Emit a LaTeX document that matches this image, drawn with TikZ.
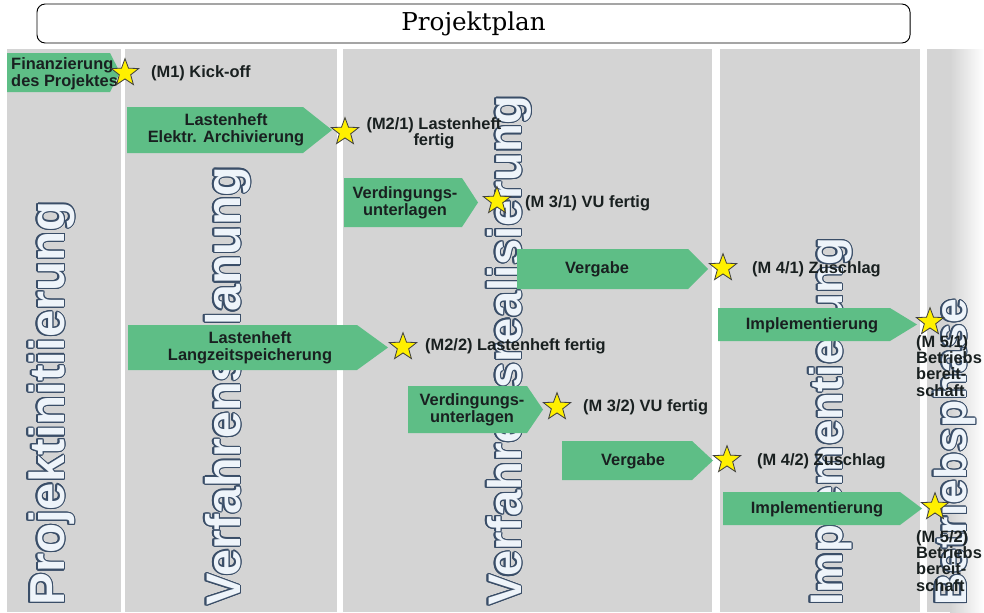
\documentclass[tikz,border=0pt]{standalone}
\usepackage{fontspec}
\setmainfont{Liberation Sans}
\newfontfamily\titlefont{DejaVu Serif}
\usepackage[copies]{contour}
\usetikzlibrary{shapes.geometric}

\definecolor{colgray}{RGB}{212,212,212}
\definecolor{taskgreen}{RGB}{94,190,134}
\definecolor{stargold}{RGB}{255,240,0}
\definecolor{phasefill}{RGB}{238,244,250}
\definecolor{phaseline}{RGB}{58,78,104}
\definecolor{darktext}{RGB}{25,32,32}
\contourlength{1pt}

% green task bar: name, left, body end, tip, top, bottom
\newcommand{\taskbar}[6]{%
  \fill[taskgreen] (#2,#5) -- (#3,#5) -- (#4,{(#5+#6)/2}) -- (#3,#6) -- (#2,#6) -- cycle;
  \coordinate (#1-tip) at (#4,{(#5+#6)/2});
}

\begin{document}
\begin{tikzpicture}[x=0.03cm,y=-0.03cm,
  titlebox/.style={draw,line width=0.8pt,rounded corners=7pt,fill=white,minimum width=26.19cm,minimum height=1.17cm,font=\titlefont\fontsize{21}{23}\selectfont},
  phase/.style={rotate=90,anchor=base west,inner sep=0pt,text=phasefill,font=\fontsize{#1}{#1}\selectfont\bfseries},
  tasktext/.style={inner sep=0pt,align=center,text=darktext,font=\fontsize{14}{14.5}\selectfont\bfseries},
  milestone/.style={star,star points=5,star point ratio=2.4,minimum size=0.86cm,inner sep=0pt,fill=stargold,draw=black!75,line width=0.7pt},
  mlabel/.style={inner sep=0pt,text=darktext,font=\fontsize{14}{14}\selectfont\bfseries}]
\useasboundingbox (0,0) rectangle (984,612);
\clip (0,0) rectangle (984,612);

% phase columns
\foreach \xa/\xb in {7/121,125/337,343/712,720/920}
  \fill[colgray] (\xa,49) rectangle (\xb,612);
\fill[colgray] (927,49) rectangle (950,612);
\shade[left color=colgray,right color=white] (950,49) rectangle (984,612);

\node[titlebox] (title) at (473.5,23.5) {Projektplan};

% phase names
\node[phase=42] (ph1) at (64,606) {\contour{phaseline}{Projektinitiierung}};
\node[phase=41.4] (ph2) at (240,606) {\contour{phaseline}{Verfahrensplanung}};
\node[phase=40.2] (ph3) at (521,606) {\contour{phaseline}{Verfahrensrealisierung}};
\node[phase=39] (ph4) at (842,606) {\contour{phaseline}{Implementierung}};
\node[phase=38] (ph5) at (966,606) {\contour{phaseline}{Betriebsphase}};

% tasks
\taskbar{fin}{7}{110}{120}{53}{92}
\taskbar{elek}{127}{303}{332}{107}{153}
\taskbar{vua}{344}{462}{478}{178}{227}
\taskbar{verga}{517}{688}{708}{249}{289}
\taskbar{impla}{718}{890}{917}{308}{341}
\taskbar{lang}{128}{357}{388}{325}{370}
\taskbar{vub}{408}{527}{543}{386}{433}
\taskbar{vergb}{562}{692}{713}{441}{480}
\taskbar{implb}{723}{900}{922}{492}{525}

\node[tasktext,anchor=west,align=left] (tfin) at (11,74) {Finanzierung\\des Projektes};
\node[tasktext] (telek) at (226,130) {Lastenheft\\Elektr. Archivierung};
\node[tasktext] (tvua) at (405,203) {Verdingungs-\\unterlagen};
\node[tasktext] (tverga) at (597,269) {Vergabe};
\node[tasktext] (timpla) at (812,325) {Implementierung};
\node[tasktext] (tlang) at (250,348) {Lastenheft\\Langzeitspeicherung};
\node[tasktext] (tvub) at (472,410) {Verdingungs-\\unterlagen};
\node[tasktext] (tvergb) at (633,461) {Vergabe};
\node[tasktext] (timplb) at (817,509) {Implementierung};

% milestones
\node[milestone] (s1) at (125,73) {};
\node[milestone] (s21) at (345,132) {};
\node[milestone] (s31) at (497,201) {};
\node[milestone] (s41) at (723,268) {};
\node[milestone] (s51) at (930,322) {};
\node[milestone] (s22) at (403,347) {};
\node[milestone] (s32) at (557,407) {};
\node[milestone] (s42) at (727,460) {};
\node[milestone] (s52) at (935,507) {};

\node[mlabel,anchor=west] (l1) at (151,73) {(M1) Kick-off};
\node[mlabel,align=center] (l21) at (434,133) {(M2/1) Lastenheft\\fertig};
\node[mlabel,anchor=west] (l31) at (525,203) {(M 3/1) VU fertig};
\node[mlabel,anchor=west] (l41) at (752,269) {(M 4/1) Zuschlag};
\node[mlabel,anchor=north west,align=left] (l51) at (916,335) {(M 5/1)\\Betriebs\\bereit-\\schaft};
\node[mlabel,anchor=west] (l22) at (425,346) {(M2/2) Lastenheft fertig};
\node[mlabel,anchor=west] (l32) at (583,407) {(M 3/2) VU fertig};
\node[mlabel,anchor=west] (l42) at (757,461) {(M 4/2) Zuschlag};
\node[mlabel,anchor=north west,align=left] (l52) at (916,530) {(M 5/2)\\Betriebs\\bereit-\\schaft};
\end{tikzpicture}
\end{document}
